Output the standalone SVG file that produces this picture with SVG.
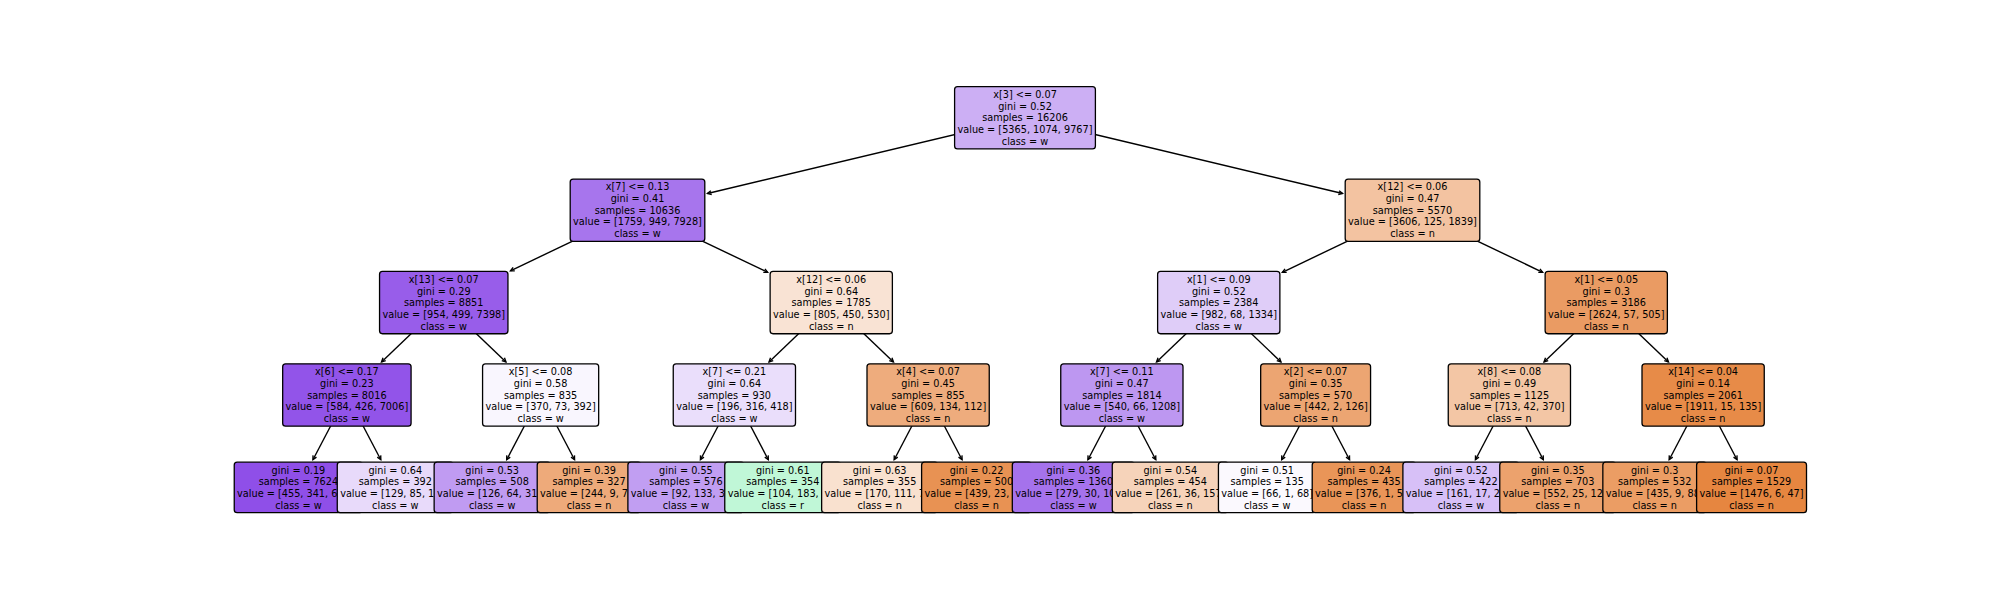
<svg xmlns="http://www.w3.org/2000/svg" width="2000" height="600" viewBox="0 0 2000 600">
<style>
.box{stroke:#000;stroke-width:1.3}
text{font-family:"DejaVu Sans",sans-serif;font-size:9.72px;text-anchor:middle;fill:#000}
.edge{stroke:#000;stroke-width:1.39;fill:none;marker-end:url(#ah)}
</style>
<defs>
<marker id="ah" markerUnits="userSpaceOnUse" orient="auto" refX="0" refY="0" markerWidth="10" markerHeight="10" overflow="visible">
<path d="M-3.9,-1.94 L0,0 L-3.9,1.94" fill="none" stroke="#000" stroke-width="1.39"/>
</marker>
</defs>
<rect width="2000" height="600" fill="#fff"/>
<g id="connectors">
<line class="edge" x1="1025" y1="117.8" x2="707.5" y2="193.5"/>
<line class="edge" x1="1025" y1="117.8" x2="1342.5" y2="193.5"/>
<line class="edge" x1="637.5" y1="210.2" x2="510.45" y2="270.8"/>
<line class="edge" x1="637.5" y1="210.2" x2="767.65" y2="272.26"/>
<line class="edge" x1="1412.5" y1="210.2" x2="1282.35" y2="272.26"/>
<line class="edge" x1="1412.5" y1="210.2" x2="1542.65" y2="272.26"/>
<line class="edge" x1="443.75" y1="302.6" x2="381.55" y2="361.93"/>
<line class="edge" x1="443.75" y1="302.6" x2="505.95" y2="361.93"/>
<line class="edge" x1="831.25" y1="302.6" x2="769.05" y2="361.93"/>
<line class="edge" x1="831.25" y1="302.6" x2="893.45" y2="361.93"/>
<line class="edge" x1="1218.75" y1="302.6" x2="1156.55" y2="361.93"/>
<line class="edge" x1="1218.75" y1="302.6" x2="1280.95" y2="361.93"/>
<line class="edge" x1="1606.25" y1="302.6" x2="1544.05" y2="361.93"/>
<line class="edge" x1="1606.25" y1="302.6" x2="1668.45" y2="361.93"/>
<line class="edge" x1="346.875" y1="395" x2="312.94" y2="459.74"/>
<line class="edge" x1="346.875" y1="395" x2="380.81" y2="459.74"/>
<line class="edge" x1="540.625" y1="395" x2="506.69" y2="459.74"/>
<line class="edge" x1="540.625" y1="395" x2="574.56" y2="459.74"/>
<line class="edge" x1="734.375" y1="395" x2="700.44" y2="459.74"/>
<line class="edge" x1="734.375" y1="395" x2="768.31" y2="459.74"/>
<line class="edge" x1="928.125" y1="395" x2="894.19" y2="459.74"/>
<line class="edge" x1="928.125" y1="395" x2="962.06" y2="459.74"/>
<line class="edge" x1="1121.875" y1="395" x2="1087.94" y2="459.74"/>
<line class="edge" x1="1121.875" y1="395" x2="1155.81" y2="459.74"/>
<line class="edge" x1="1315.625" y1="395" x2="1281.69" y2="459.74"/>
<line class="edge" x1="1315.625" y1="395" x2="1349.56" y2="459.74"/>
<line class="edge" x1="1509.375" y1="395" x2="1475.44" y2="459.74"/>
<line class="edge" x1="1509.375" y1="395" x2="1543.31" y2="459.74"/>
<line class="edge" x1="1703.125" y1="395" x2="1669.19" y2="459.74"/>
<line class="edge" x1="1703.125" y1="395" x2="1737.06" y2="459.74"/>
</g>
<!-- leaves, drawn left to right -->
<g id="leaf1"><rect class="box" x="234.24" y="462.2" width="128.4" height="50.4" rx="2.9" fill="rgb(143,79,232)"/>
<text><tspan x="298.44" y="473.5">gini = 0.19</tspan><tspan x="298.44" y="485.16">samples = 7624</tspan><tspan x="298.44" y="496.84">value = [455, 341, 6828]</tspan><tspan x="298.44" y="508.5">class = w</tspan></text></g>
<g id="leaf2"><rect class="box" x="337.26" y="462.2" width="116.1" height="50.4" rx="2.9" fill="rgb(232,218,250)"/>
<text><tspan x="395.31" y="473.5">gini = 0.64</tspan><tspan x="395.31" y="485.16">samples = 392</tspan><tspan x="395.31" y="496.84">value = [129, 85, 178]</tspan><tspan x="395.31" y="508.5">class = w</tspan></text></g>
<g id="leaf3"><rect class="box" x="434.14" y="462.2" width="116.1" height="50.4" rx="2.9" fill="rgb(192,155,242)"/>
<text><tspan x="492.19" y="473.5">gini = 0.53</tspan><tspan x="492.19" y="485.16">samples = 508</tspan><tspan x="492.19" y="496.84">value = [126, 64, 318]</tspan><tspan x="492.19" y="508.5">class = w</tspan></text></g>
<g id="leaf4"><rect class="box" x="537.21" y="462.2" width="103.7" height="50.4" rx="2.9" fill="rgb(238,170,122)"/>
<text><tspan x="589.06" y="473.5">gini = 0.39</tspan><tspan x="589.06" y="485.16">samples = 327</tspan><tspan x="589.06" y="496.84">value = [244, 9, 74]</tspan><tspan x="589.06" y="508.5">class = n</tspan></text></g>
<g id="leaf5"><rect class="box" x="627.89" y="462.2" width="116.1" height="50.4" rx="2.9" fill="rgb(193,158,242)"/>
<text><tspan x="685.94" y="473.5">gini = 0.55</tspan><tspan x="685.94" y="485.16">samples = 576</tspan><tspan x="685.94" y="496.84">value = [92, 133, 351]</tspan><tspan x="685.94" y="508.5">class = w</tspan></text></g>
<g id="leaf6"><rect class="box" x="724.76" y="462.2" width="116.1" height="50.4" rx="2.9" fill="rgb(192,247,215)"/>
<text><tspan x="782.81" y="473.5">gini = 0.61</tspan><tspan x="782.81" y="485.16">samples = 354</tspan><tspan x="782.81" y="496.84">value = [104, 183, 67]</tspan><tspan x="782.81" y="508.5">class = r</tspan></text></g>
<g id="leaf7"><rect class="box" x="821.64" y="462.2" width="116.1" height="50.4" rx="2.9" fill="rgb(249,225,207)"/>
<text><tspan x="879.69" y="473.5">gini = 0.63</tspan><tspan x="879.69" y="485.16">samples = 355</tspan><tspan x="879.69" y="496.84">value = [170, 111, 74]</tspan><tspan x="879.69" y="508.5">class = n</tspan></text></g>
<g id="leaf8"><rect class="box" x="921.61" y="462.2" width="109.9" height="50.4" rx="2.9" fill="rgb(232,146,83)"/>
<text><tspan x="976.56" y="473.5">gini = 0.22</tspan><tspan x="976.56" y="485.16">samples = 500</tspan><tspan x="976.56" y="496.84">value = [439, 23, 38]</tspan><tspan x="976.56" y="508.5">class = n</tspan></text></g>
<g id="leaf9"><rect class="box" x="1012.31" y="462.2" width="122.25" height="50.4" rx="2.9" fill="rgb(165,114,236)"/>
<text><tspan x="1073.44" y="473.5">gini = 0.36</tspan><tspan x="1073.44" y="485.16">samples = 1360</tspan><tspan x="1073.44" y="496.84">value = [279, 30, 1051]</tspan><tspan x="1073.44" y="508.5">class = w</tspan></text></g>
<g id="leaf10"><rect class="box" x="1112.26" y="462.2" width="116.1" height="50.4" rx="2.9" fill="rgb(246,211,186)"/>
<text><tspan x="1170.31" y="473.5">gini = 0.54</tspan><tspan x="1170.31" y="485.16">samples = 454</tspan><tspan x="1170.31" y="496.84">value = [261, 36, 157]</tspan><tspan x="1170.31" y="508.5">class = n</tspan></text></g>
<g id="leaf11"><rect class="box" x="1218.44" y="462.2" width="97.5" height="50.4" rx="2.9" fill="rgb(251,249,254)"/>
<text><tspan x="1267.19" y="473.5">gini = 0.51</tspan><tspan x="1267.19" y="485.16">samples = 135</tspan><tspan x="1267.19" y="496.84">value = [66, 1, 68]</tspan><tspan x="1267.19" y="508.5">class = w</tspan></text></g>
<g id="leaf12"><rect class="box" x="1312.21" y="462.2" width="103.7" height="50.4" rx="2.9" fill="rgb(233,149,88)"/>
<text><tspan x="1364.06" y="473.5">gini = 0.24</tspan><tspan x="1364.06" y="485.16">samples = 435</tspan><tspan x="1364.06" y="496.84">value = [376, 1, 58]</tspan><tspan x="1364.06" y="508.5">class = n</tspan></text></g>
<g id="leaf13"><rect class="box" x="1402.89" y="462.2" width="116.1" height="50.4" rx="2.9" fill="rgb(215,192,247)"/>
<text><tspan x="1460.94" y="473.5">gini = 0.52</tspan><tspan x="1460.94" y="485.16">samples = 422</tspan><tspan x="1460.94" y="496.84">value = [161, 17, 244]</tspan><tspan x="1460.94" y="508.5">class = w</tspan></text></g>
<g id="leaf14"><rect class="box" x="1499.76" y="462.2" width="116.1" height="50.4" rx="2.9" fill="rgb(236,162,109)"/>
<text><tspan x="1557.81" y="473.5">gini = 0.35</tspan><tspan x="1557.81" y="485.16">samples = 703</tspan><tspan x="1557.81" y="496.84">value = [552, 25, 126]</tspan><tspan x="1557.81" y="508.5">class = n</tspan></text></g>
<g id="leaf15"><rect class="box" x="1602.84" y="462.2" width="103.7" height="50.4" rx="2.9" fill="rgb(235,157,100)"/>
<text><tspan x="1654.69" y="473.5">gini = 0.3</tspan><tspan x="1654.69" y="485.16">samples = 532</tspan><tspan x="1654.69" y="496.84">value = [435, 9, 88]</tspan><tspan x="1654.69" y="508.5">class = n</tspan></text></g>
<g id="leaf16"><rect class="box" x="1696.61" y="462.2" width="109.9" height="50.4" rx="2.9" fill="rgb(230,134,64)"/>
<text><tspan x="1751.56" y="473.5">gini = 0.07</tspan><tspan x="1751.56" y="485.16">samples = 1529</tspan><tspan x="1751.56" y="496.84">value = [1476, 6, 47]</tspan><tspan x="1751.56" y="508.5">class = n</tspan></text></g>
<!-- depth 3 -->
<g id="d3a"><rect class="box" x="282.675" y="363.85" width="128.4" height="62.3" rx="2.9" fill="#9254e9"/>
<text><tspan x="346.875" y="375.26">x[6] &lt;= 0.17</tspan><tspan x="346.875" y="386.93">gini = 0.23</tspan><tspan x="346.875" y="398.6">samples = 8016</tspan><tspan x="346.875" y="410.27">value = [584, 426, 7006]</tspan><tspan x="346.875" y="421.94">class = w</tspan></text></g>
<g id="d3b"><rect class="box" x="482.575" y="363.85" width="116.1" height="62.3" rx="2.9" fill="#f9f6fe"/>
<text><tspan x="540.625" y="375.26">x[5] &lt;= 0.08</tspan><tspan x="540.625" y="386.93">gini = 0.58</tspan><tspan x="540.625" y="398.6">samples = 835</tspan><tspan x="540.625" y="410.27">value = [370, 73, 392]</tspan><tspan x="540.625" y="421.94">class = w</tspan></text></g>
<g id="d3c"><rect class="box" x="673.25" y="363.85" width="122.25" height="62.3" rx="2.9" fill="#eadefb"/>
<text><tspan x="734.375" y="375.26">x[7] &lt;= 0.21</tspan><tspan x="734.375" y="386.93">gini = 0.64</tspan><tspan x="734.375" y="398.6">samples = 930</tspan><tspan x="734.375" y="410.27">value = [196, 316, 418]</tspan><tspan x="734.375" y="421.94">class = w</tspan></text></g>
<g id="d3d"><rect class="box" x="867" y="363.85" width="122.25" height="62.3" rx="2.9" fill="#eeac7d"/>
<text><tspan x="928.125" y="375.26">x[4] &lt;= 0.07</tspan><tspan x="928.125" y="386.93">gini = 0.45</tspan><tspan x="928.125" y="398.6">samples = 855</tspan><tspan x="928.125" y="410.27">value = [609, 134, 112]</tspan><tspan x="928.125" y="421.94">class = n</tspan></text></g>
<g id="d3e"><rect class="box" x="1060.75" y="363.85" width="122.25" height="62.3" rx="2.9" fill="#bd97f1"/>
<text><tspan x="1121.875" y="375.26">x[7] &lt;= 0.11</tspan><tspan x="1121.875" y="386.93">gini = 0.47</tspan><tspan x="1121.875" y="398.6">samples = 1814</tspan><tspan x="1121.875" y="410.27">value = [540, 66, 1208]</tspan><tspan x="1121.875" y="421.94">class = w</tspan></text></g>
<g id="d3f"><rect class="box" x="1260.675" y="363.85" width="109.9" height="62.3" rx="2.9" fill="#eca572"/>
<text><tspan x="1315.625" y="375.26">x[2] &lt;= 0.07</tspan><tspan x="1315.625" y="386.93">gini = 0.35</tspan><tspan x="1315.625" y="398.6">samples = 570</tspan><tspan x="1315.625" y="410.27">value = [442, 2, 126]</tspan><tspan x="1315.625" y="421.94">class = n</tspan></text></g>
<g id="d3g"><rect class="box" x="1448.25" y="363.85" width="122.25" height="62.3" rx="2.9" fill="#f3c6a5"/>
<text><tspan x="1509.375" y="375.26">x[8] &lt;= 0.08</tspan><tspan x="1509.375" y="386.93">gini = 0.49</tspan><tspan x="1509.375" y="398.6">samples = 1125</tspan><tspan x="1509.375" y="410.27">value = [713, 42, 370]</tspan><tspan x="1509.375" y="421.94">class = n</tspan></text></g>
<g id="d3h"><rect class="box" x="1642" y="363.85" width="122.25" height="62.3" rx="2.9" fill="#e78b48"/>
<text><tspan x="1703.125" y="375.26">x[14] &lt;= 0.04</tspan><tspan x="1703.125" y="386.93">gini = 0.14</tspan><tspan x="1703.125" y="398.6">samples = 2061</tspan><tspan x="1703.125" y="410.27">value = [1911, 15, 135]</tspan><tspan x="1703.125" y="421.94">class = n</tspan></text></g>
<!-- depth 2 -->
<g id="d2a"><rect class="box" x="379.55" y="271.45" width="128.4" height="62.3" rx="2.9" fill="#985dea"/>
<text><tspan x="443.75" y="282.86">x[13] &lt;= 0.07</tspan><tspan x="443.75" y="294.53">gini = 0.29</tspan><tspan x="443.75" y="306.2">samples = 8851</tspan><tspan x="443.75" y="317.87">value = [954, 499, 7398]</tspan><tspan x="443.75" y="329.54">class = w</tspan></text></g>
<g id="d2b"><rect class="box" x="770.125" y="271.45" width="122.25" height="62.3" rx="2.9" fill="#f9e3d4"/>
<text><tspan x="831.25" y="282.86">x[12] &lt;= 0.06</tspan><tspan x="831.25" y="294.53">gini = 0.64</tspan><tspan x="831.25" y="306.2">samples = 1785</tspan><tspan x="831.25" y="317.87">value = [805, 450, 530]</tspan><tspan x="831.25" y="329.54">class = n</tspan></text></g>
<g id="d2c"><rect class="box" x="1157.625" y="271.45" width="122.25" height="62.3" rx="2.9" fill="#dfcdf8"/>
<text><tspan x="1218.75" y="282.86">x[1] &lt;= 0.09</tspan><tspan x="1218.75" y="294.53">gini = 0.52</tspan><tspan x="1218.75" y="306.2">samples = 2384</tspan><tspan x="1218.75" y="317.87">value = [982, 68, 1334]</tspan><tspan x="1218.75" y="329.54">class = w</tspan></text></g>
<g id="d2d"><rect class="box" x="1545.125" y="271.45" width="122.25" height="62.3" rx="2.9" fill="#ea9b63"/>
<text><tspan x="1606.25" y="282.86">x[1] &lt;= 0.05</tspan><tspan x="1606.25" y="294.53">gini = 0.3</tspan><tspan x="1606.25" y="306.2">samples = 3186</tspan><tspan x="1606.25" y="317.87">value = [2624, 57, 505]</tspan><tspan x="1606.25" y="329.54">class = n</tspan></text></g>
<!-- depth 1 -->
<g id="d1a"><rect class="box" x="570.2" y="179.05" width="134.6" height="62.3" rx="2.9" fill="#a775ed"/>
<text><tspan x="637.5" y="190.46">x[7] &lt;= 0.13</tspan><tspan x="637.5" y="202.13">gini = 0.41</tspan><tspan x="637.5" y="213.8">samples = 10636</tspan><tspan x="637.5" y="225.47">value = [1759, 949, 7928]</tspan><tspan x="637.5" y="237.14">class = w</tspan></text></g>
<g id="d1b"><rect class="box" x="1345.2" y="179.05" width="134.6" height="62.3" rx="2.9" fill="#f3c3a1"/>
<text><tspan x="1412.5" y="190.46">x[12] &lt;= 0.06</tspan><tspan x="1412.5" y="202.13">gini = 0.47</tspan><tspan x="1412.5" y="213.8">samples = 5570</tspan><tspan x="1412.5" y="225.47">value = [3606, 125, 1839]</tspan><tspan x="1412.5" y="237.14">class = n</tspan></text></g>
<!-- root -->
<g id="root"><rect class="box" x="954.6" y="86.65" width="140.8" height="62.3" rx="2.9" fill="#ccaff4"/>
<text><tspan x="1025" y="98.06">x[3] &lt;= 0.07</tspan><tspan x="1025" y="109.73">gini = 0.52</tspan><tspan x="1025" y="121.4">samples = 16206</tspan><tspan x="1025" y="133.07">value = [5365, 1074, 9767]</tspan><tspan x="1025" y="144.74">class = w</tspan></text></g>
</svg>
